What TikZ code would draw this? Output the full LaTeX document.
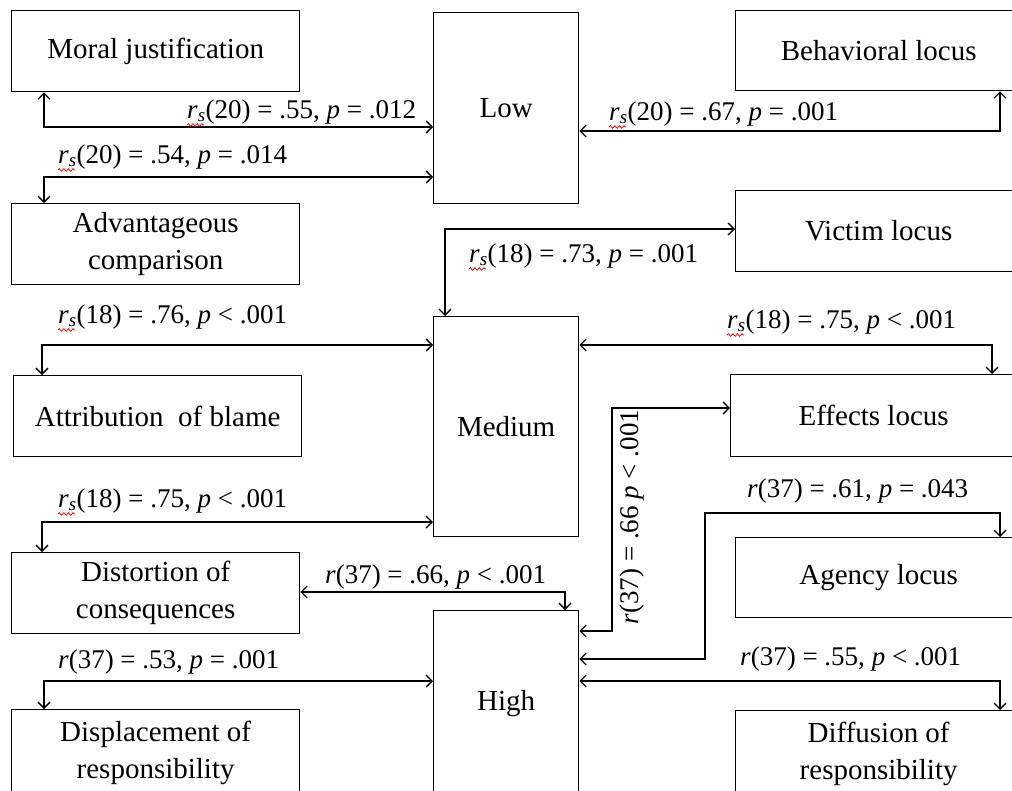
\documentclass[tikz,border=0pt]{standalone}
\usepackage{fontspec}
\setmainfont{Liberation Serif}
\usetikzlibrary{arrows.meta}
\usetikzlibrary{decorations.pathmorphing}

\newcommand{\rs}{\textit{r}\textsubscript{\textit{s}}}
\newcommand{\rr}{\textit{r}}
\newcommand{\pp}{\textit{p}}

\begin{document}
\begin{tikzpicture}[x=1pt,y=-1pt,
  box/.style={draw,line width=1.3pt,anchor=north west,inner sep=0pt,align=center,
    font=\fontsize{29}{37}\selectfont,minimum height=81pt},
  lbox/.style={box,minimum width=288pt},
  mbox/.style={box,minimum width=145pt},
  rbox/.style={box,minimum width=286pt},
  lbl/.style={anchor=base west,inner sep=0pt,font=\fontsize{27}{32}\selectfont},
  link/.style={line width=1.3pt,{Straight Barb[length=6pt,width=12pt]}-{Straight Barb[length=6pt,width=12pt]}},
  squig/.style={red,line width=0.8pt,decorate,decoration={snake,amplitude=1.3pt,segment length=4.5pt}}]
\useasboundingbox (0,0) rectangle (1012,790);

% left column
\node[lbox] (mj) at (11,10) {Moral justification};
\node[lbox] (adv) at (11,203) {Advantageous\\comparison};
\node[lbox] (att) at (13,375) {Attribution~ of blame};
\node[lbox] (dis) at (11,552) {Distortion of\\consequences};
\node[lbox,minimum height=86pt] (disp) at (11,709) {Displacement of\\responsibility};
% levels
\node[mbox,minimum height=191pt] (low) at (433,12) {Low};
\node[mbox,minimum height=220pt] (med) at (433,316) {Medium};
\node[mbox,minimum height=186pt] (high) at (433,610) {High};
% right column
\node[rbox,minimum height=80pt] (beh) at (735,10) {Behavioral locus};
\node[rbox] (vic) at (735,190) {Victim locus};
\node[rbox,minimum height=82pt] (eff) at (730,374) {Effects locus};
\node[rbox,minimum height=80pt] (agy) at (735,537) {Agency locus};
\node[rbox,minimum height=86pt] (dif) at (735,710) {Diffusion of\\responsibility};

\draw[link] ([xshift=33pt]mj.south west) |- (low.west |- 0,127);
\draw[link] ([xshift=33pt]adv.north west) |- (low.west |- 0,177);
\draw[link] ([xshift=265pt]beh.south west) |- (low.east |- 0,131);
\draw[link] (vic.west |- 0,229) -| ([xshift=12pt]med.north west);
\draw[link] ([xshift=29pt]att.north west) |- (med.west |- 0,345);
\draw[link] ([xshift=262pt]eff.north west) |- (med.east |- 0,345);
\draw[link] ([xshift=31pt]dis.north west) |- (med.west |- 0,522);
\draw[link] (dis.east |- 0,592) -| ([xshift=132pt]high.north west);
\draw[link] (high.east |- 0,631) -| (612,408) -- (eff.west |- 0,408);
\draw[link] (high.east |- 0,659) -| (705,513) -| ([xshift=265pt]agy.north west);
\draw[link] ([xshift=33pt]disp.north west) |- (high.west |- 0,681);
\draw[link] ([xshift=265pt]dif.north west) |- (high.east |- 0,681);

\node[lbl] (l1) at (187,118) {\rs(20) = .55, \pp{} = .012};
\node[lbl] (l2) at (58,163) {\rs(20) = .54, \pp{} = .014};
\node[lbl] (l3) at (609,120) {\rs(20) = .67, \pp{} = .001};
\node[lbl] (l4) at (469,262) {\rs(18) = .73, \pp{} = .001};
\node[lbl] (l5) at (58,323) {\rs(18) = .76, \pp{} < .001};
\node[lbl] (l6) at (727,328) {\rs(18) = .75, \pp{} < .001};
\node[lbl] (l7) at (58,507) {\rs(18) = .75, \pp{} < .001};
\node[lbl] (l8) at (747,497) {\rr(37) = .61, \pp{} = .043};
\node[lbl] (l9) at (325,583) {\rr(37) = .66, \pp{} < .001};
\node[lbl] (l10) at (58,668) {\rr(37) = .53, \pp{} = .001};
\node[lbl] (l11) at (740,665) {\rr(37) = .55, \pp{} < .001};
\node[lbl,anchor=center,rotate=90] (l12) at (632,517) {\rr(37) = .66 \pp{} < .001};

\foreach \l in {l1,l2,l3,l4,l5,l6,l7}
  \draw[squig] ([yshift=-7pt]\l.base west) -- ++(17,0);
\end{tikzpicture}
\end{document}
